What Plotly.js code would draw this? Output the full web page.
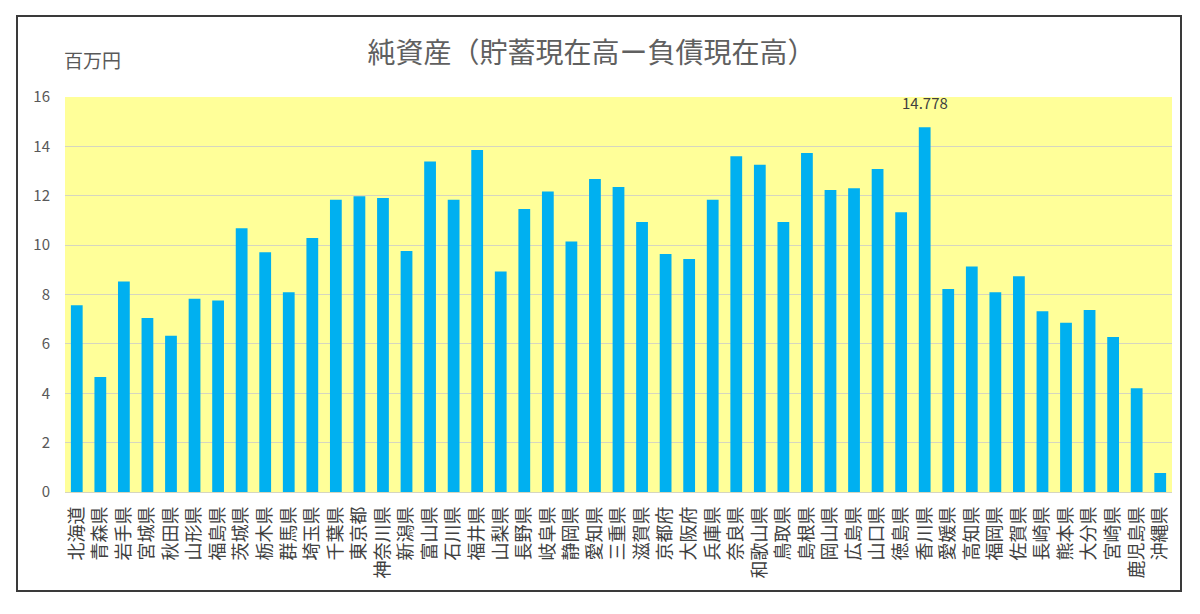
<!DOCTYPE html>
<html>
<head>
<meta charset="utf-8">
<script src="https://cdn.plot.ly/plotly-3.0.1.min.js"></script>
<style>
  html, body { margin: 0; padding: 0; background: #ffffff; }
  #wrap { position: relative; width: 1200px; height: 614px; }
  #frame {
    position: absolute; left: 16px; top: 15px; width: 1162px; height: 573px;
    border: 2px solid #3a3a3a; pointer-events: none;
  }
  #chart { position: absolute; left: 0; top: 0; width: 1200px; height: 614px; }
</style>
</head>
<body>
<div id="wrap">
  <div id="chart"></div>
  <div id="frame"></div>
</div>
<script>
// 都道府県別 純資産（百万円）
const prefectures = [
  "北海道", "青森県", "岩手県", "宮城県", "秋田県", "山形県", "福島県", "茨城県",
  "栃木県", "群馬県", "埼玉県", "千葉県", "東京都", "神奈川県", "新潟県", "富山県",
  "石川県", "福井県", "山梨県", "長野県", "岐阜県", "静岡県", "愛知県", "三重県",
  "滋賀県", "京都府", "大阪府", "兵庫県", "奈良県", "和歌山県", "鳥取県", "島根県",
  "岡山県", "広島県", "山口県", "徳島県", "香川県", "愛媛県", "高知県", "福岡県",
  "佐賀県", "長崎県", "熊本県", "大分県", "宮崎県", "鹿児島県", "沖縄県"
];
const netAssets = [
  7.56, 4.66, 8.53, 7.05, 6.33, 7.83, 7.76, 10.68,
  9.71, 8.09, 10.29, 11.84, 11.98, 11.91, 9.76, 13.39,
  11.84, 13.85, 8.93, 11.46, 12.17, 10.15, 12.68, 12.35,
  10.94, 9.64, 9.44, 11.84, 13.60, 13.26, 10.94, 13.73,
  12.23, 12.30, 13.08, 11.33, 14.778, 8.22, 9.13, 8.09,
  8.74, 7.32, 6.86, 7.37, 6.28, 4.20, 0.77
];
const yTicks = [0, 2, 4, 6, 8, 10, 12, 14, 16];
const labelledPrefecture = "香川県";

const labelIdx = prefectures.indexOf(labelledPrefecture);
const font = '"Noto Sans CJK JP", "Noto Sans", sans-serif';

const trace = {
  type: 'bar',
  x: prefectures,
  y: netAssets,
  marker: { color: '#00b0f0', line: { width: 0 } },
  hoverinfo: 'x+y'
};

const layout = {
  width: 1200,
  height: 614,
  margin: { l: 65, r: 28, t: 97, b: 122 },
  paper_bgcolor: 'rgba(0,0,0,0)',
  plot_bgcolor: '#ffff99',
  bargap: 0.5,
  showlegend: false,
  font: { family: font, color: '#595959' },
  title: {
    text: '純資産（貯蓄現在高ー負債現在高）',
    font: { family: font, size: 28, color: '#606060' },
    xref: 'container', x: 0.493, xanchor: 'center',
    yref: 'container', y: 0.913, yanchor: 'middle'
  },
  xaxis: {
    type: 'category',
    tickangle: -90,
    ticks: '',
    showgrid: false,
    showline: false,
    zeroline: false,
    ticklabelstandoff: 10,
    tickfont: { family: font, size: 18, color: '#404040' }
  },
  yaxis: {
    range: [0, 16],
    tickmode: 'array',
    tickvals: yTicks,
    ticktext: yTicks.map(String),
    ticks: '',
    showgrid: true,
    gridcolor: '#d6d6c0',
    gridwidth: 1,
    zeroline: true,
    zerolinecolor: '#d6d6c0',
    zerolinewidth: 1,
    showline: false,
    ticklabelstandoff: 14,
    tickfont: { family: font, size: 15, color: '#595959' }
  },
  annotations: [
    {
      text: '百万円',
      xref: 'paper', yref: 'paper',
      x: -0.003, xanchor: 'left',
      y: 1.095, yanchor: 'middle',
      showarrow: false,
      font: { family: font, size: 19, color: '#595959' }
    },
    {
      text: String(netAssets[labelIdx]),
      x: prefectures[labelIdx], y: netAssets[labelIdx],
      xref: 'x', yref: 'y',
      yanchor: 'bottom', yshift: 12,
      showarrow: false,
      font: { family: font, size: 15, color: '#404040' }
    }
  ]
};

Plotly.newPlot('chart', [trace], layout, { displayModeBar: false, staticPlot: true });
</script>
</body>
</html>
